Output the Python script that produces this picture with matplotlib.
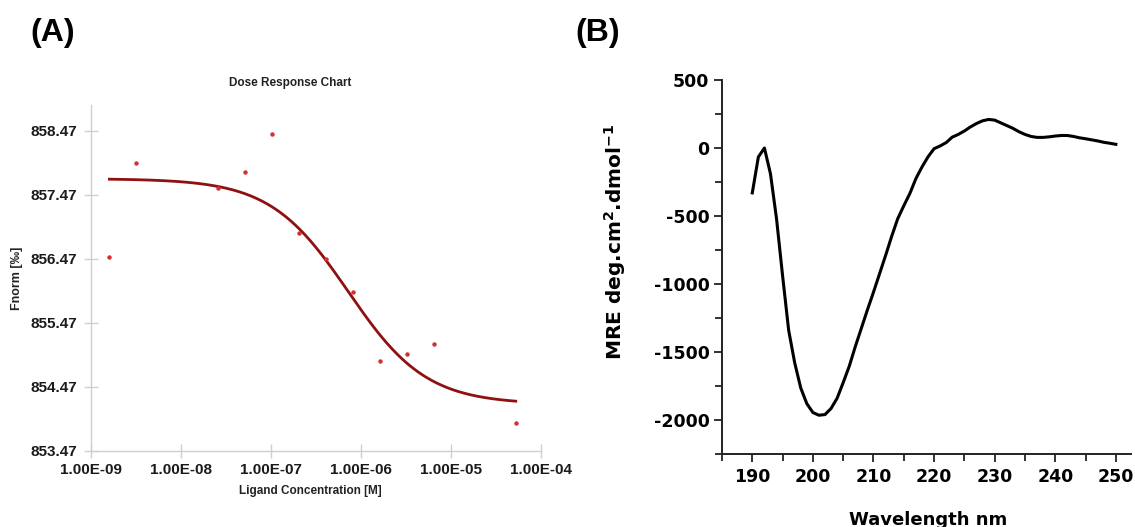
import numpy as np
import matplotlib
matplotlib.use("Agg")
import matplotlib.pyplot as plt
from matplotlib.ticker import MultipleLocator, NullLocator

plt.rcParams["axes.unicode_minus"] = False
plt.rcParams["mathtext.default"] = "bf"

# (A) MST dose response: ligand concentration [M] vs Fnorm [per mille]
conc = [1.6e-9, 3.2e-9, 2.56e-8, 5.12e-8, 1.02e-7, 2.05e-7, 4.1e-7,
        8.19e-7, 1.64e-6, 3.28e-6, 6.55e-6, 5.24e-5]
fnorm = [856.50, 857.97, 857.58, 857.82, 858.42, 856.88, 856.46,
         855.95, 854.88, 854.99, 855.14, 853.91]

# fitted dose response parameters
fit_top = 857.72
fit_bottom = 854.20
fit_ec50 = 7.2e-7
fit_hill = 1.0

# (B) CD spectrum
wavelength = list(range(190, 251))
mre = [-330, -66, 0, -190, -520, -940, -1340, -1580, -1765, -1880,
       -1945, -1965, -1960, -1915, -1840, -1725, -1605, -1460, -1325, -1190,
       -1060, -925, -790, -650, -520, -425, -335, -225, -140, -65,
       -5, 15, 40, 80, 100, 125, 155, 180, 200, 210,
       205, 185, 165, 145, 120, 100, 85, 78, 78, 82,
       88, 92, 92, 85, 75, 68, 60, 52, 42, 35,
       27]

x_ticks = [1e-9, 1e-8, 1e-7, 1e-6, 1e-5, 1e-4]
x_labels = ["1.00E-09", "1.00E-08", "1.00E-07", "1.00E-06", "1.00E-05", "1.00E-04"]
y_ticks = [853.47, 854.47, 855.47, 856.47, 857.47, 858.47]

W, H = 1135, 527
fig = plt.figure(figsize=(W / 100, H / 100), dpi=100)

# ---- panel A ----
axA = fig.add_axes([91 / W, 1 - 451 / H, 450 / W, 346 / H])
xs = np.logspace(np.log10(conc[0]), np.log10(conc[-1]), 300)
fit = fit_bottom + (fit_top - fit_bottom) / (1 + (xs / fit_ec50) ** fit_hill)
axA.plot(xs, fit, color="#8e1010", lw=2.0, zorder=2)
axA.plot(conc, fnorm, "o", color="#d43030", ms=3.2, mec="none", zorder=3)
axA.set_xscale("log")
axA.set_xlim(1e-9, 1e-4)
axA.set_ylim(853.47, 858.87)
axA.set_xticks(x_ticks)
axA.set_xticklabels(x_labels)
axA.xaxis.set_minor_locator(NullLocator())
axA.set_yticks(y_ticks)
axA.set_yticklabels(["%.2f" % v for v in y_ticks])
for s in ["top", "right"]:
    axA.spines[s].set_visible(False)
for s in ["left", "bottom"]:
    axA.spines[s].set_color("#cfcfcf")
    axA.spines[s].set_linewidth(1.0)
axA.tick_params(direction="inout", length=10, width=1.0, color="#cfcfcf",
                labelcolor="#1a1a1a")
axA.tick_params(axis="y", pad=5)
axA.tick_params(axis="x", pad=4)
for lab in axA.get_xticklabels() + axA.get_yticklabels():
    lab.set_fontfamily("Liberation Sans")
    lab.set_fontweight("bold")
    lab.set_fontsize(11)

fig.text(290 / W, 1 - 83 / H, "Dose Response Chart", ha="center", va="center",
         fontsize=8.5, fontweight="bold", family="Liberation Sans", color="#222222")
fig.text(310 / W, 1 - 491 / H, "Ligand Concentration [M]", ha="center", va="center",
         fontsize=8.5, fontweight="bold", family="Liberation Sans", color="#222222")
fig.text(17 / W, 1 - 278 / H, "Fnorm [‰]", ha="center", va="center", rotation=90,
         fontsize=9, fontweight="bold", family="Liberation Sans", color="#222222")

# ---- panel B ----
axB = fig.add_axes([722 / W, 1 - 454 / H, 409 / W, 374 / H])
axB.plot(wavelength, mre, color="black", lw=2.2)
axB.set_xlim(185, 252.5)
axB.set_ylim(-2250, 500)
axB.set_xticks(range(190, 251, 10))
axB.xaxis.set_minor_locator(MultipleLocator(5))
axB.set_yticks(range(-2000, 501, 500))
axB.yaxis.set_minor_locator(MultipleLocator(250))
for s in ["top", "right"]:
    axB.spines[s].set_visible(False)
for s in ["left", "bottom"]:
    axB.spines[s].set_color("#222222")
    axB.spines[s].set_linewidth(1.4)
axB.tick_params(which="both", direction="out", width=1.3, color="#222222")
axB.tick_params(which="major", length=6)
axB.tick_params(which="minor", length=5)
axB.tick_params(axis="y", pad=3)
axB.tick_params(axis="x", pad=4)
for lab in axB.get_xticklabels() + axB.get_yticklabels():
    lab.set_fontfamily("DejaVu Sans")
    lab.set_fontweight("bold")
    lab.set_fontsize(12.5)

fig.text(928 / W, 1 - 520 / H, "Wavelength nm", ha="center", va="center",
         fontsize=13, fontweight="bold", family="DejaVu Sans")
fig.text(615 / W, 1 - 242 / H, r"MRE deg.cm$^{2}$.dmol$^{-1}$",
         ha="center", va="center", rotation=90,
         fontsize=14.5, fontweight="bold", family="DejaVu Sans")

# panel letters
fig.text(53 / W, 1 - 33 / H, "(A)", ha="center", va="center",
         fontsize=23, fontweight="bold", family="Liberation Sans")
fig.text(598 / W, 1 - 33 / H, "(B)", ha="center", va="center",
         fontsize=23, fontweight="bold", family="Liberation Sans")

fig.savefig("out.png", dpi=100, facecolor="white")
